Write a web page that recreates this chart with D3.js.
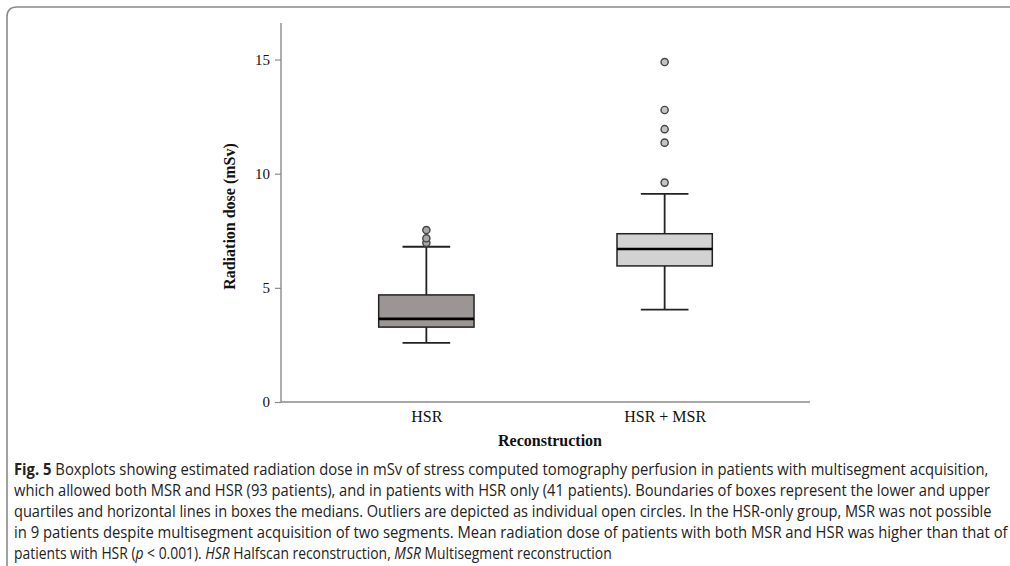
<!DOCTYPE html>
<html>
<head>
<meta charset="utf-8">
<script src="https://cdn.jsdelivr.net/npm/d3@7"></script>
<style>
  html, body { margin: 0; padding: 0; background: #fff; }
  svg { display: block; }
</style>
</head>
<body>
<svg id="chart" width="1010" height="566"></svg>
<script>
// ---- data ----
const categories = ["HSR", "HSR + MSR"];
const lowerWhisker = [2.59, 4.05];
const q1 = [3.28, 5.96];
const median = [3.64, 6.70];
const q3 = [4.69, 7.37];
const upperWhisker = [6.80, 9.12];
const outliers = [[6.97, 7.17, 7.53], [9.61, 11.36, 11.95, 12.79, 14.89]];
const boxColors = ["#9b9693", "#d2d2d2"];
const outlierColors = ["#a9a7a6", "#c4c4c4"];
const yTicks = [0, 5, 10, 15];
const yTitle = "Radiation dose (mSv)";
const xTitle = "Reconstruction";
const captionLines = [
  [{t: "Fig. 5", w: "bold"}, {t: " Boxplots showing estimated radiation dose in mSv of stress computed tomography perfusion in patients with multisegment acquisition,"}],
  [{t: "which allowed both MSR and HSR (93 patients), and in patients with HSR only (41 patients). Boundaries of boxes represent the lower and upper"}],
  [{t: "quartiles and horizontal lines in boxes the medians. Outliers are depicted as individual open circles. In the HSR-only group, MSR was not possible"}],
  [{t: "in 9 patients despite multisegment acquisition of two segments. Mean radiation dose of patients with both MSR and HSR was higher than that of"}],
  [{t: "patients with HSR ("}, {t: "p", s: "italic"}, {t: " < 0.001). "}, {t: "HSR", s: "italic"}, {t: " Halfscan reconstruction, "}, {t: "MSR", s: "italic"}, {t: " Multisegment reconstruction"}]
];
const captionWidths = [975, 977, 979, 994, 598];

// ---- layout ----
const svg = d3.select("#chart");
const plot = {left: 281, right: 810, top: 23, bottom: 402};

// figure frame (rounded top-left corner, open to right and bottom)
svg.append("path")
  .attr("d", "M7,566 L7,17 Q7,7 17,7 L1010,7")
  .attr("fill", "none").attr("stroke", "#8a8a8a").attr("stroke-width", 1.6);

const y = d3.scaleLinear().domain([0, 16.6]).range([plot.bottom, plot.top]);
const x = d3.scalePoint().domain(categories).range([plot.left, plot.right]).padding(0.61);
const boxW = 0.4 * x.step();
const capW = boxW / 2;

// y axis
const yAxis = svg.append("g").attr("transform", `translate(${plot.left},0)`)
  .call(d3.axisLeft(y).tickValues(yTicks).tickSize(6).tickPadding(5).tickFormat(d3.format("d")));
yAxis.select(".domain").attr("d", `M0,${plot.top}V${plot.bottom}`).attr("stroke", "#8a8a8a").attr("stroke-width", 1.4);
yAxis.selectAll(".tick line").attr("stroke", "#8a8a8a").attr("stroke-width", 1.2);
yAxis.selectAll(".tick text").attr("font-family", "'Liberation Serif', 'Times New Roman', serif")
  .attr("font-size", 15).attr("fill", "#111");

// x axis
const xAxis = svg.append("g").attr("transform", `translate(0,${plot.bottom})`)
  .call(d3.axisBottom(x).tickSize(0).tickPadding(9));
xAxis.select(".domain").attr("d", `M${plot.left},0H${plot.right}`).attr("stroke", "#8a8a8a").attr("stroke-width", 1.4);
xAxis.selectAll(".tick text").attr("font-family", "'Liberation Serif', 'Times New Roman', serif")
  .attr("font-size", 16).attr("fill", "#111");

// axis titles
svg.append("text")
  .attr("transform", `translate(235,${(plot.top + plot.bottom) / 2 + 4}) rotate(-90)`)
  .attr("text-anchor", "middle")
  .attr("font-family", "'Liberation Serif', 'Times New Roman', serif")
  .attr("font-weight", "bold").attr("font-size", 16).attr("fill", "#111")
  .text(yTitle);
svg.append("text")
  .attr("x", 550).attr("y", 446)
  .attr("text-anchor", "middle")
  .attr("font-family", "'Liberation Serif', 'Times New Roman', serif")
  .attr("font-weight", "bold").attr("font-size", 16).attr("fill", "#111")
  .text(xTitle);

// boxes
const stroke = "#222";
categories.forEach((c, i) => {
  const cx = x(c);
  const g = svg.append("g");
  // whiskers
  g.append("line").attr("x1", cx).attr("x2", cx).attr("y1", y(q3[i])).attr("y2", y(upperWhisker[i]))
    .attr("stroke", stroke).attr("stroke-width", 1.8);
  g.append("line").attr("x1", cx).attr("x2", cx).attr("y1", y(q1[i])).attr("y2", y(lowerWhisker[i]))
    .attr("stroke", stroke).attr("stroke-width", 1.8);
  g.append("line").attr("x1", cx - capW / 2).attr("x2", cx + capW / 2)
    .attr("y1", y(upperWhisker[i])).attr("y2", y(upperWhisker[i]))
    .attr("stroke", stroke).attr("stroke-width", 1.8);
  g.append("line").attr("x1", cx - capW / 2).attr("x2", cx + capW / 2)
    .attr("y1", y(lowerWhisker[i])).attr("y2", y(lowerWhisker[i]))
    .attr("stroke", stroke).attr("stroke-width", 1.8);
  // box
  g.append("rect").attr("x", cx - boxW / 2).attr("width", boxW)
    .attr("y", y(q3[i])).attr("height", y(q1[i]) - y(q3[i]))
    .attr("fill", boxColors[i]).attr("stroke", stroke).attr("stroke-width", 1.5);
  // median
  g.append("line").attr("x1", cx - boxW / 2).attr("x2", cx + boxW / 2)
    .attr("y1", y(median[i])).attr("y2", y(median[i]))
    .attr("stroke", "#000").attr("stroke-width", 2.6);
  // outliers
  g.selectAll("circle").data(outliers[i]).join("circle")
    .attr("cx", cx).attr("cy", d => y(d)).attr("r", 3.6)
    .attr("fill", outlierColors[i]).attr("stroke", "#444").attr("stroke-width", 1.4);
});

// caption
const capFont = "'Open Sans', 'Noto Sans', sans-serif";
captionLines.forEach((parts, li) => {
  const t = svg.append("text")
    .attr("x", 0).attr("y", 0)
    .attr("font-family", capFont).attr("font-size", 15.5).attr("fill", "#222");
  parts.forEach(p => {
    t.append("tspan").attr("font-weight", p.w || "normal").attr("font-style", p.s || "normal")
      .attr("xml:space", "preserve").style("white-space", "pre").text(p.t);
  });
  const w = t.node().getComputedTextLength();
  const sx = captionWidths[li] / w;
  t.attr("transform", `translate(14,${475 + li * 21}) scale(${sx},1)`);
});
</script>
</body>
</html>
